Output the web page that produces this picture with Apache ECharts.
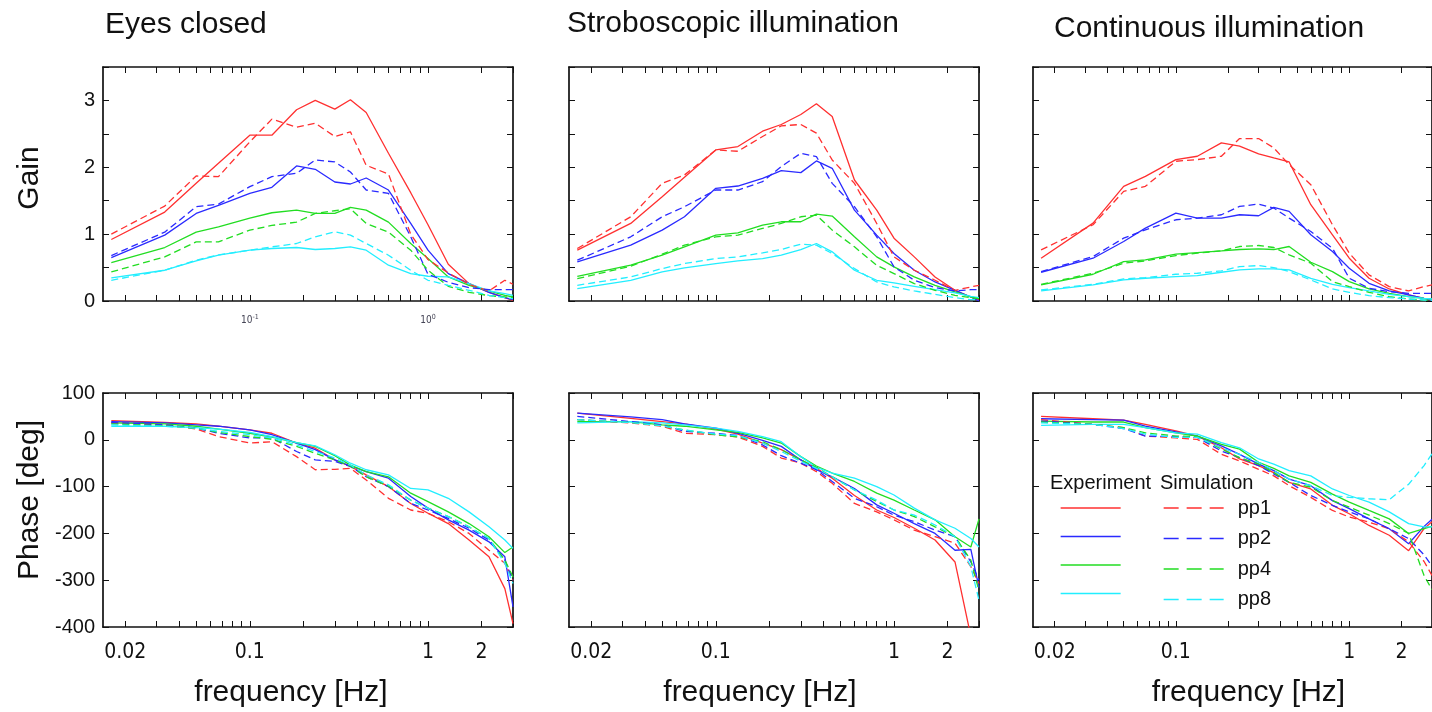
<!DOCTYPE html>
<html><head><meta charset="utf-8">
<script src="https://cdn.jsdelivr.net/npm/echarts@6/dist/echarts.min.js"></script>
<style>html,body{margin:0;padding:0;background:#fff;overflow:hidden}#c{width:1432px;height:712px}</style>
</head><body><div id="c"></div>
<script>
// ---------- data ----------
const freqs = [0.0167, 0.0333, 0.05, 0.0667, 0.1, 0.133, 0.183, 0.233, 0.3, 0.367, 0.45, 0.6, 0.8, 1.0, 1.3, 1.7, 2.2, 2.7, 3.0];
const panelTitles = ['Eyes closed', 'Stroboscopic illumination', 'Continuous illumination'];
const groupNames = ['pp1', 'pp2', 'pp4', 'pp8'];
const xTickValues = [0.02,0.03,0.04,0.05,0.06,0.07,0.08,0.09,0.1,0.2,0.3,0.4,0.5,0.6,0.7,0.8,0.9,1,2,3];
const xLabelValues = [0.02, 0.1, 1, 2];
const xDecadeLabels = [0.1, 1];

// Eyes closed - gain
const eyesGainExp1 = [0.92,1.33,1.76,2.06,2.48,2.48,2.86,3.0,2.87,3.01,2.82,2.21,1.62,1.14,0.55,0.26,0.13,0.05,0.01];
const eyesGainSim1 = [1.0,1.42,1.87,1.86,2.38,2.72,2.6,2.66,2.46,2.53,2.03,1.9,1.0,0.62,0.42,0.25,0.15,0.31,0.25];
const eyesGainExp2 = [0.65,0.985,1.31,1.43,1.61,1.70,2.02,1.97,1.78,1.75,1.84,1.66,1.16,0.76,0.41,0.26,0.13,0.05,0.02];
const eyesGainSim2 = [0.68,1.03,1.41,1.45,1.71,1.86,1.91,2.11,2.08,1.93,1.66,1.61,0.96,0.4,0.28,0.2,0.17,0.17,0.17];
const eyesGainExp4 = [0.575,0.8,1.03,1.11,1.24,1.32,1.36,1.31,1.31,1.40,1.36,1.18,0.86,0.635,0.36,0.235,0.15,0.085,0.06];
const eyesGainSim4 = [0.435,0.66,0.885,0.885,1.06,1.13,1.18,1.31,1.35,1.38,1.16,1.03,0.76,0.46,0.22,0.13,0.08,0.06,0.05];
const eyesGainExp8 = [0.345,0.46,0.6,0.685,0.76,0.785,0.80,0.77,0.785,0.81,0.76,0.535,0.41,0.37,0.36,0.26,0.15,0.11,0.085];
const eyesGainSim8 = [0.31,0.46,0.61,0.69,0.76,0.81,0.86,0.96,1.035,0.985,0.86,0.685,0.46,0.31,0.235,0.16,0.085,0.05,0.035];
// Stroboscopic - gain
const stroGainExp1 = [0.76,1.16,1.56,1.85,2.26,2.31,2.54,2.64,2.79,2.95,2.76,1.81,1.36,0.94,0.66,0.36,0.16,0.06,0.01];
const stroGainSim1 = [0.785,1.26,1.76,1.885,2.26,2.24,2.46,2.62,2.64,2.51,2.11,1.76,1.16,0.66,0.46,0.31,0.16,0.21,0.235];
const stroGainExp2 = [0.585,0.835,1.06,1.26,1.685,1.72,1.835,1.95,1.92,2.095,1.985,1.36,0.985,0.71,0.46,0.285,0.16,0.06,0.0];
const stroGainSim2 = [0.61,0.96,1.26,1.41,1.66,1.66,1.785,2.01,2.21,2.16,1.76,1.41,0.96,0.51,0.31,0.2,0.15,0.17,0.17];
const stroGainExp4 = [0.37,0.535,0.685,0.81,0.985,1.02,1.135,1.185,1.185,1.3,1.27,0.96,0.66,0.51,0.36,0.235,0.135,0.06,0.035];
const stroGainSim4 = [0.335,0.52,0.7,0.835,0.96,0.985,1.085,1.16,1.26,1.285,1.06,0.81,0.535,0.41,0.26,0.16,0.085,0.05,0.035];
const stroGainExp8 = [0.185,0.31,0.435,0.495,0.56,0.6,0.635,0.685,0.77,0.86,0.735,0.46,0.31,0.27,0.22,0.17,0.12,0.07,0.05];
const stroGainSim8 = [0.235,0.36,0.485,0.56,0.635,0.66,0.72,0.77,0.85,0.835,0.71,0.485,0.285,0.21,0.15,0.1,0.05,0.02,0.02];
// Continuous - gain
const contGainExp1 = [0.64,1.165,1.715,1.865,2.115,2.165,2.365,2.315,2.2,2.14,2.08,1.44,0.99,0.64,0.34,0.18,0.09,0.04,0.015];
const contGainSim1 = [0.765,1.14,1.64,1.715,2.09,2.115,2.165,2.43,2.43,2.29,2.04,1.74,1.14,0.715,0.39,0.215,0.15,0.215,0.24];
const contGainExp2 = [0.43,0.64,0.89,1.09,1.315,1.24,1.24,1.29,1.275,1.4,1.34,0.99,0.74,0.49,0.265,0.15,0.09,0.04,0.015];
const contGainSim2 = [0.44,0.665,0.94,1.065,1.215,1.24,1.29,1.415,1.45,1.39,1.24,1.04,0.79,0.34,0.19,0.14,0.115,0.115,0.115];
const contGainExp4 = [0.24,0.4,0.59,0.615,0.7,0.725,0.75,0.77,0.78,0.77,0.815,0.58,0.44,0.29,0.18,0.115,0.065,0.04,0.03];
const contGainSim4 = [0.25,0.415,0.565,0.6,0.68,0.715,0.75,0.815,0.83,0.8,0.69,0.565,0.29,0.215,0.13,0.065,0.03,0.015,0.01];
const contGainExp8 = [0.15,0.24,0.315,0.34,0.365,0.38,0.43,0.465,0.48,0.48,0.465,0.34,0.25,0.2,0.15,0.1,0.065,0.04,0.03];
const contGainSim8 = [0.165,0.25,0.33,0.35,0.4,0.415,0.45,0.515,0.53,0.5,0.44,0.315,0.18,0.13,0.08,0.05,0.03,0.015,0.01];

// Eyes closed - phase
const eyesPhaseExp1 = [41,37,34,29,21,14,-7,-18,-43,-57,-75,-100,-136,-157,-179,-214,-250,-318,-393];
const eyesPhaseSim1 = [36,32,23,7,-7,-4,-36,-64,-63,-61,-86,-125,-150,-157,-175,-200,-236,-264,-300];
const eyesPhaseExp2 = [39,36,32,29,21,11,-7,-21,-43,-56,-68,-82,-121,-146,-171,-193,-218,-250,-357];
const eyesPhaseSim2 = [37,32,25,14,4,4,-25,-43,-46,-57,-79,-100,-136,-150,-168,-189,-214,-257,-300];
const eyesPhaseExp4 = [36,34,29,23,14,6,-6,-14,-34,-54,-68,-79,-114,-132,-154,-179,-207,-241,-229];
const eyesPhaseSim4 = [34,30,25,16,7,1,-14,-29,-43,-56,-79,-99,-129,-146,-164,-186,-211,-257,-293];
const eyesPhaseExp8 = [29,29,26,23,16,7,-6,-13,-32,-50,-64,-75,-104,-107,-125,-154,-186,-214,-232];
const eyesPhaseSim8 = [32,29,25,18,11,4,-11,-25,-39,-54,-75,-96,-129,-146,-164,-186,-211,-264,-307];
// Stroboscopic - phase
const stroPhaseExp1 = [57,46,39,34,23,12,-7,-21,-43,-61,-82,-119,-150,-166,-189,-214,-261,-420,-460];
const stroPhaseSim1 = [43,36,29,14,11,6,-14,-39,-50,-68,-93,-136,-154,-171,-193,-207,-221,-271,-307];
const stroPhaseExp2 = [57,49,43,34,25,14,-1,-14,-43,-64,-79,-104,-139,-157,-179,-200,-236,-234,-316];
const stroPhaseSim2 = [50,39,32,18,14,9,-11,-34,-50,-64,-89,-125,-143,-161,-175,-193,-207,-261,-300];
const stroPhaseExp4 = [39,39,32,29,21,16,4,-7,-36,-56,-71,-89,-114,-129,-150,-171,-207,-229,-169];
const stroPhaseSim4 = [43,37,30,21,11,6,-4,-21,-43,-59,-79,-107,-132,-150,-164,-186,-207,-257,-323];
const stroPhaseExp8 = [36,39,36,32,25,18,7,-4,-36,-59,-71,-82,-100,-118,-146,-171,-189,-211,-229];
const stroPhaseSim8 = [43,37,30,21,12,9,-7,-25,-46,-61,-79,-107,-129,-150,-161,-182,-207,-271,-343];
// Continuous - phase
const contPhaseExp1 = [50,45,42,33,19,8,-17,-41,-55,-70,-91,-105,-140,-158,-183,-204,-237,-190,-175];
const contPhaseSim1 = [43,33,26,8,4,1,-31,-45,-63,-77,-98,-123,-151,-165,-176,-190,-218,-260,-290];
const contPhaseExp2 = [45,43,42,29,17,8,-13,-31,-52,-66,-84,-98,-130,-147,-169,-190,-222,-185,-170];
const contPhaseSim2 = [40,33,24,8,7,5,-24,-38,-55,-73,-91,-119,-140,-154,-169,-190,-211,-246,-270];
const contPhaseExp4 = [40,38,38,26,15,8,-10,-20,-48,-61,-77,-91,-116,-133,-151,-169,-200,-190,-185];
const contPhaseSim4 = [38,33,26,15,8,7,-20,-38,-52,-70,-91,-101,-130,-144,-161,-179,-200,-290,-320];
const contPhaseExp8 = [31,33,33,26,15,12,-6,-17,-41,-52,-66,-77,-105,-119,-133,-154,-179,-186,-186];
const contPhaseSim8 = [36,33,24,12,5,5,-17,-31,-48,-66,-84,-98,-119,-123,-126,-128,-95,-55,-30];

// ---------- assembly ----------
const panelData = [
  [[eyesGainExp1,eyesGainExp2,eyesGainExp4,eyesGainExp8],[eyesGainSim1,eyesGainSim2,eyesGainSim4,eyesGainSim8]],
  [[stroGainExp1,stroGainExp2,stroGainExp4,stroGainExp8],[stroGainSim1,stroGainSim2,stroGainSim4,stroGainSim8]],
  [[contGainExp1,contGainExp2,contGainExp4,contGainExp8],[contGainSim1,contGainSim2,contGainSim4,contGainSim8]],
  [[eyesPhaseExp1,eyesPhaseExp2,eyesPhaseExp4,eyesPhaseExp8],[eyesPhaseSim1,eyesPhaseSim2,eyesPhaseSim4,eyesPhaseSim8]],
  [[stroPhaseExp1,stroPhaseExp2,stroPhaseExp4,stroPhaseExp8],[stroPhaseSim1,stroPhaseSim2,stroPhaseSim4,stroPhaseSim8]],
  [[contPhaseExp1,contPhaseExp2,contPhaseExp4,contPhaseExp8],[contPhaseSim1,contPhaseSim2,contPhaseSim4,contPhaseSim8]]
];

const colors = ['#ff3030', '#2a2aff', '#22dd22', '#22eeff'];
const FONT = "'Liberation Sans', Arial, sans-serif";
const NARROW = "'Liberation Sans Narrow', 'Arial Narrow', 'DejaVu Sans Condensed', sans-serif";
const INK = '#111';
const gridLefts = [103, 569, 1033];
const gridW = 410;
const rowTops = [67, 393];
const rowH = 234;
const frame = {show: true, onZero: false, lineStyle: {color: '#111', width: 1.7}};

const grids = [], xAxes = [], yAxes = [], series = [];
const nameShift = [[0,34,0,0],[0,28,0,0],[0,0,0,32]];

for (let row = 0; row < 2; row++) {
  for (let col = 0; col < 3; col++) {
    const g = row * 3 + col;
    grids.push({left: gridLefts[col], top: rowTops[row], width: gridW, height: rowH, containLabel: false});
    const isPhase = row === 1;
    const xb = {
      type: 'log', logBase: 10, gridIndex: g, position: 'bottom', min: 0.015, max: 3,
      axisLine: frame, splitLine: {show: false}, minorTick: {show: false},
      axisTick: {show: true, inside: true, length: 6, customValues: xTickValues, lineStyle: {color: '#111', width: 1}},
      axisLabel: {show: false}
    };
    if (isPhase) {
      xb.axisLabel = {show: true, customValues: xLabelValues, margin: 15, fontSize: 21, fontFamily: NARROW, color: INK,
        formatter: v => String(+v.toPrecision(3))};
      xb.name = 'frequency [Hz]';
      xb.nameLocation = 'middle';
      xb.nameGap = 51;
      xb.nameTextStyle = {fontSize: 30, fontFamily: FONT, color: INK, padding: nameShift[col]};
    } else if (col === 0) {
      xb.axisLabel = {show: true, customValues: xDecadeLabels, margin: 13, color: '#445',
        formatter: v => '{a|10}{b|' + Math.round(Math.log10(v)) + '}',
        rich: {a: {fontSize: 10, fontFamily: NARROW, color: '#445'}, b: {fontSize: 7, fontFamily: NARROW, color: '#445', padding: [0, 0, 6, 0]}}};
    }
    xAxes.push(xb);
    xAxes.push({
      type: 'log', logBase: 10, gridIndex: g, position: 'top', min: 0.015, max: 3,
      axisLine: frame, splitLine: {show: false},
      axisTick: {show: true, inside: true, length: 6, customValues: xTickValues, lineStyle: {color: '#111', width: 1}},
      axisLabel: {show: false}
    });
    const yr = isPhase ? {min: -400, max: 100, interval: 100} : {min: 0, max: 3.5, interval: 0.5};
    const yl = Object.assign({
      type: 'value', gridIndex: g, position: 'left',
      axisLine: frame, splitLine: {show: false},
      axisTick: {show: true, inside: true, length: 6, lineStyle: {color: '#111', width: 1}},
      axisLabel: {show: col === 0, margin: 8, fontSize: 20, fontFamily: FONT, color: INK,
        formatter: v => (isPhase || Number.isInteger(v)) ? String(v) : ''}
    }, yr);
    if (col === 0) {
      yl.name = isPhase ? 'Phase [deg]' : 'Gain';
      yl.nameLocation = 'middle';
      yl.nameGap = 58;
      yl.nameTextStyle = {fontSize: 30, fontFamily: FONT, color: INK, padding: isPhase ? [0,0,0,20] : [0,0,0,12]};
    }
    yAxes.push(yl);
    yAxes.push(Object.assign({
      type: 'value', gridIndex: g, position: 'right',
      axisLine: frame, splitLine: {show: false},
      axisTick: {show: true, inside: true, length: 6, lineStyle: {color: '#111', width: 1}},
      axisLabel: {show: false}
    }, yr));

    const [expSet, simSet] = panelData[g];
    for (let k = 0; k < 4; k++) {
      series.push({
        name: 'Experiment ' + groupNames[k], type: 'line', xAxisIndex: 2 * g, yAxisIndex: 2 * g,
        data: freqs.map((f, i) => [f, expSet[k][i]]), symbol: 'none', showSymbol: false, clip: true,
        lineStyle: {color: colors[k], width: 1.3, type: 'solid'}, itemStyle: {color: colors[k]}, z: 2
      });
      series.push({
        name: 'Simulation ' + groupNames[k], type: 'line', xAxisIndex: 2 * g, yAxisIndex: 2 * g,
        data: freqs.map((f, i) => [f, simSet[k][i]]), symbol: 'none', showSymbol: false, clip: true,
        lineStyle: {color: colors[k], width: 1.3, type: [7, 4]}, itemStyle: {color: colors[k]}, z: 3
      });
    }
  }
}

const titles = [
  {text: panelTitles[0], left: 105, top: 10},
  {text: panelTitles[1], left: 567, top: 9},
  {text: panelTitles[2], left: 1054, top: 14}
].map(t => Object.assign(t, {padding: 0, textStyle: {fontSize: 30, fontWeight: 'normal', fontFamily: FONT, color: INK}}));
titles.push({text: 'Experiment', left: 1050, top: 473, padding: 0, textStyle: {fontSize: 20, fontWeight: 'normal', fontFamily: FONT, color: INK}});
titles.push({text: 'Simulation', left: 1160, top: 473, padding: 0, textStyle: {fontSize: 20, fontWeight: 'normal', fontFamily: FONT, color: INK}});

const legendCommon = {
  orient: 'vertical', top: 498, itemWidth: 60, itemHeight: 20, itemGap: 10.5, padding: 0,
  selectedMode: false, itemStyle: {opacity: 0}, backgroundColor: 'transparent'
};
const legends = [
  Object.assign({}, legendCommon, {
    left: 1060, data: groupNames.map(n => 'Experiment ' + n), formatter: () => '',
    lineStyle: {width: 1.3, type: 'solid'}, textStyle: {fontSize: 20, fontFamily: FONT, color: INK}
  }),
  Object.assign({}, legendCommon, {
    left: 1163, data: groupNames.map(n => 'Simulation ' + n), formatter: n => n.split(' ')[1],
    lineStyle: {width: 1.3, type: [15, 8]}, textStyle: {fontSize: 20, fontFamily: FONT, color: INK, padding: [0, 0, 0, 9]}
  })
];

const chart = echarts.init(document.getElementById('c'), null, {renderer: 'canvas'});
chart.setOption({
  animation: false,
  backgroundColor: '#fff',
  title: titles,
  legend: legends,
  grid: grids,
  xAxis: xAxes,
  yAxis: yAxes,
  series: series
});
</script>
</body></html>
